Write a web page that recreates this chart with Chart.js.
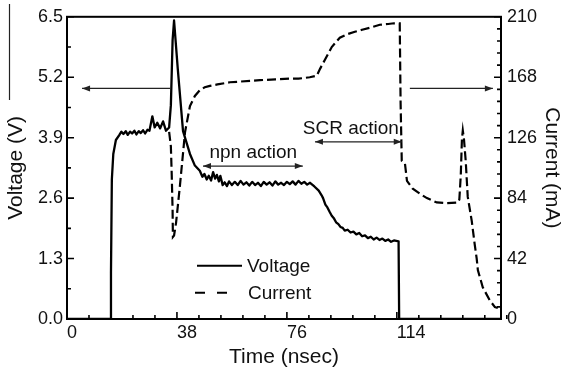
<!DOCTYPE html>
<html>
<head>
<meta charset="utf-8">
<script src="https://cdn.jsdelivr.net/npm/chart.js@4.4.1/dist/chart.umd.min.js"></script>
<style>
  html, body { margin: 0; padding: 0; background: #fff; }
  canvas { display: block; }
</style>
</head>
<body>
<canvas id="chart" width="563" height="378"></canvas>
<script>
// Voltage trace (V) against time (nsec)
const voltageTime = [
  0, 15.0, 15.2, 15.5, 16.0, 16.9, 18.0, 18.8, 19.5, 20.3, 21.0, 21.8, 22.5, 23.3, 24.0,
  24.8, 25.5, 26.3, 27.0, 27.8, 28.5, 29.5, 30.3, 31.2, 32.2, 33.2, 34.2, 35.3, 35.9,
  36.5, 37.0, 38.3, 40.1, 42.5, 44.2, 45.9, 46.8, 47.5, 48.3, 49.0, 49.8, 50.5, 51.2,
  51.8, 52.5, 53.0, 53.8, 54.5, 55.3, 56.0, 57.0, 58.0, 59.0, 60.0, 61.0, 62.0, 63.0,
  64.0, 65.0, 66.0, 67.0, 68.0, 69.0, 70.0, 71.0, 72.0, 73.0, 74.0, 75.0, 76.0, 77.0,
  78.0, 79.0, 80.0, 81.0, 82.0, 83.0, 84.0, 85.5, 87.0, 88.0, 88.5, 89.3, 90.0, 90.8,
  91.5, 92.3, 93.0, 93.8, 94.5, 95.3, 96.0, 97.0, 98.0, 99.0, 100.0, 101.0, 102.0, 103.0,
  104.0, 105.0, 106.0, 107.0, 108.0, 109.0, 110.0, 111.0, 112.0, 113.0, 114.6, 114.8, 150
];
const voltageValues = [
  0, 0, 1.0, 3.0, 3.55, 3.85, 3.95, 4.03, 3.98, 4.04, 3.96, 4.03, 3.99, 4.05, 3.97,
  4.04, 4.0, 4.06, 3.99, 4.07, 4.05, 4.36, 4.12, 4.22, 4.10, 4.25, 4.05, 4.12, 4.6,
  6.0, 6.42, 5.37, 4.04, 3.55, 3.30, 3.19, 3.06, 3.12, 3.0, 3.08, 2.98, 3.16, 3.02,
  3.10, 2.96, 3.08, 2.88, 2.94, 2.86, 2.96, 2.88, 2.95, 2.88, 2.97, 2.89, 2.94, 2.87,
  2.95, 2.88, 2.93, 2.86, 2.95, 2.89, 2.94, 2.87, 2.96, 2.89, 2.93, 2.88, 2.95, 2.90,
  2.96, 2.89, 2.97, 2.91, 2.95, 2.89, 2.93, 2.85, 2.76, 2.66, 2.60, 2.46, 2.40, 2.30,
  2.22, 2.16, 2.08, 2.04, 1.98, 1.96, 1.90, 1.92, 1.86, 1.88, 1.82, 1.85, 1.78, 1.80,
  1.74, 1.77, 1.71, 1.75, 1.70, 1.73, 1.68, 1.71, 1.66, 1.69, 1.67, 0, 0
];

// Current trace (mA) against time (nsec)
const currentTime = [
  35.3, 35.9, 36.2, 36.5, 36.6, 37.0, 37.7, 39.0, 40.8, 42.5, 44.2, 45.9, 47.6, 49.4,
  52.0, 56.3, 60.0, 66.7, 72.0, 77.0, 80.0, 83.9, 86.3, 87.5, 89.1, 91.5, 94.3, 97.0,
  99.5, 102.0, 104.7, 108.1, 111.0, 113.0, 115.0, 115.3, 115.7, 116.8, 117.5, 119.5,
  122.0, 124.4, 127.8, 131.0, 135.1, 135.6, 136.1, 136.5, 136.8, 137.2, 137.8, 138.5,
  139.9, 140.9, 141.6, 142.0, 143.7, 146.1, 147.9, 148.9
];
const currentValues = [
  130, 120, 100, 75, 57, 58, 67, 92, 130, 148, 155, 159, 161, 162,
  163, 164.5, 165, 166, 166.5, 167, 167, 168, 169, 174, 180, 189, 195.5, 198,
  199.6, 201, 202.4, 204.5, 205, 205.5, 205.5, 150, 110, 108, 96, 90.5,
  87, 84, 81, 80.5, 81, 83, 100, 125, 131, 125, 110, 85,
  68, 52, 42, 34, 22, 13, 8.3, 7.6
];

// Axis tick labels
const timeTicks = [0, 38, 76, 114];
const voltageTicks = [0, 1.3, 2.6, 3.9, 5.2, 6.5];
const currentTicks = [0, 42, 84, 126, 168, 210];

const FONT = '"Liberation Sans", Arial, Helvetica, sans-serif';
const INK = '#111';

const pairs = (xs, ys) => xs.map((x, i) => ({ x, y: ys[i] }));

// Annotation arrows: [startTime, endTime, voltageLevel, headAtStart, headAtEnd]
const noteArrows = [
  [35.6, 5.2, 4.96, false, true],
  [118.5, 147.2, 4.96, false, true],
  [47.0, 81.5, 3.29, true, true],
  [85.7, 115.7, 3.81, true, true]
];
// Annotation labels: [text, centreTime, baselineVoltage]
const noteLabels = [
  ['npn action', 64.4, 3.47],
  ['SCR action', 98.1, 3.97]
];

function drawArrow(ctx, x1, x2, y, headStart, headEnd) {
  ctx.save();
  ctx.strokeStyle = '#222';
  ctx.fillStyle = '#222';
  ctx.lineWidth = 1.2;
  ctx.beginPath();
  ctx.moveTo(x1, y);
  ctx.lineTo(x2, y);
  ctx.stroke();
  const head = (tip, dir) => {
    ctx.beginPath();
    ctx.moveTo(tip, y);
    ctx.lineTo(tip - dir * 8, y - 3);
    ctx.lineTo(tip - dir * 8, y + 3);
    ctx.closePath();
    ctx.fill();
  };
  const dir = x2 > x1 ? 1 : -1;
  if (headEnd) head(x2, dir);
  if (headStart) head(x1, -dir);
  ctx.restore();
}

function minorValues(scale, step) {
  const out = [];
  const n = Math.round((scale.max - scale.min) / step);
  for (let i = 0; i <= n; i++) out.push(scale.min + i * step);
  return out;
}

const framePlugin = {
  id: 'frameAndNotes',
  afterDatasetsDraw(chart) {
    const { ctx, chartArea: a, scales } = chart;
    const x = scales.x, yV = scales.yV, yI = scales.yI;
    ctx.save();
    ctx.strokeStyle = '#000';
    ctx.lineCap = 'butt';

    // inward ticks
    ctx.lineWidth = 1.6;
    ctx.beginPath();
    minorValues(x, 7.6).forEach(v => {
      const p = x.getPixelForValue(v);
      ctx.moveTo(p, a.bottom); ctx.lineTo(p, a.bottom - 4);
    });
    timeTicks.forEach(v => {
      const p = x.getPixelForValue(v);
      ctx.moveTo(p, a.bottom); ctx.lineTo(p, a.bottom - 7);
    });
    minorValues(yV, 0.65).forEach(v => {
      const p = yV.getPixelForValue(v);
      ctx.moveTo(a.left, p); ctx.lineTo(a.left + 4, p);
    });
    voltageTicks.forEach(v => {
      const p = yV.getPixelForValue(v);
      ctx.moveTo(a.left, p); ctx.lineTo(a.left + 7, p);
    });
    minorValues(yI, 8.4).forEach(v => {
      const p = yI.getPixelForValue(v);
      ctx.moveTo(a.right, p); ctx.lineTo(a.right - 4, p);
    });
    currentTicks.forEach(v => {
      const p = yI.getPixelForValue(v);
      ctx.moveTo(a.right, p); ctx.lineTo(a.right - 7, p);
    });
    ctx.stroke();

    // frame
    ctx.lineWidth = 2;
    ctx.strokeRect(a.left, a.top, a.right - a.left, a.bottom - a.top);

    // annotations
    noteArrows.forEach(([t1, t2, v, hs, he]) => {
      drawArrow(ctx, x.getPixelForValue(t1), x.getPixelForValue(t2), yV.getPixelForValue(v), hs, he);
    });
    ctx.fillStyle = INK;
    ctx.font = '19px ' + FONT;
    ctx.textAlign = 'center';
    ctx.textBaseline = 'alphabetic';
    noteLabels.forEach(([txt, t, v]) => {
      ctx.fillText(txt, x.getPixelForValue(t), yV.getPixelForValue(v));
    });

    // legend
    const lx = a.left + 130;
    const ly1 = a.top + 249;
    const ly2 = a.top + 276;
    ctx.lineWidth = 2;
    ctx.beginPath();
    ctx.moveTo(lx, ly1); ctx.lineTo(lx + 45, ly1);
    ctx.stroke();
    ctx.beginPath();
    ctx.setLineDash([10, 12]);
    ctx.moveTo(lx - 2, ly2); ctx.lineTo(lx + 32, ly2);
    ctx.stroke();
    ctx.setLineDash([]);
    ctx.textAlign = 'left';
    ctx.fillText('Voltage', lx + 50, ly1 + 6);
    ctx.fillText('Current', lx + 51, ly2 + 6);

    ctx.restore();
  },
  afterDraw(chart) {
    // edge rule at the top left of the panel
    const { ctx } = chart;
    ctx.save();
    ctx.strokeStyle = '#222';
    ctx.lineWidth = 1.2;
    ctx.beginPath();
    ctx.moveTo(9.5, 4);
    ctx.lineTo(9.5, 100);
    ctx.stroke();
    ctx.restore();
  }
};

const tickFont = { family: FONT, size: 18 };
const titleFont = { family: FONT, size: 21 };

new Chart(document.getElementById('chart'), {
  type: 'line',
  data: {
    datasets: [
      {
        label: 'Voltage',
        data: pairs(voltageTime, voltageValues),
        yAxisID: 'yV',
        borderColor: '#000',
        borderWidth: 2.3,
        pointRadius: 0,
        tension: 0,
        borderJoinStyle: 'round'
      },
      {
        label: 'Current',
        data: pairs(currentTime, currentValues),
        yAxisID: 'yI',
        borderColor: '#000',
        borderWidth: 2.2,
        borderDash: [9, 4],
        pointRadius: 0,
        tension: 0
      }
    ]
  },
  options: {
    responsive: false,
    animation: false,
    events: [],
    layout: { padding: { top: 15, left: 0, right: 0, bottom: 0 } },
    plugins: { legend: { display: false }, tooltip: { enabled: false } },
    scales: {
      x: {
        type: 'linear',
        position: 'bottom',
        min: 0,
        max: 150,
        grid: { display: false, drawTicks: false },
        border: { display: false },
        afterBuildTicks: s => { s.ticks = timeTicks.map(v => ({ value: v })); },
        afterFit: s => { s.height = 59; },
        ticks: { font: tickFont, color: INK, align: 'start', padding: 3, maxRotation: 0, callback: v => String(v) },
        title: { display: true, text: 'Time (nsec)', font: titleFont, color: INK, padding: { top: 0, bottom: 8 } }
      },
      yV: {
        type: 'linear',
        position: 'left',
        min: 0,
        max: 6.5,
        grid: { display: false, drawTicks: false },
        border: { display: false },
        afterBuildTicks: s => { s.ticks = voltageTicks.map(v => ({ value: v })); },
        afterFit: s => { s.width = 67; },
        ticks: { font: tickFont, color: INK, padding: 4, callback: v => Number(v).toFixed(1) },
        title: { display: true, text: 'Voltage (V)', font: titleFont, color: INK, padding: { top: 4, bottom: 0 } }
      },
      yI: {
        type: 'linear',
        position: 'right',
        min: 0,
        max: 210,
        grid: { display: false, drawTicks: false },
        border: { display: false },
        afterBuildTicks: s => { s.ticks = currentTicks.map(v => ({ value: v })); },
        afterFit: s => { s.width = 62; },
        ticks: { font: tickFont, color: INK, padding: 6, callback: v => String(v) },
        title: { display: true, text: 'Current (mA)', font: { family: FONT, size: 21, lineHeight: 1 }, color: INK, padding: { top: 0.5, bottom: 0 } }
      }
    }
  },
  plugins: [framePlugin]
});
</script>
</body>
</html>
